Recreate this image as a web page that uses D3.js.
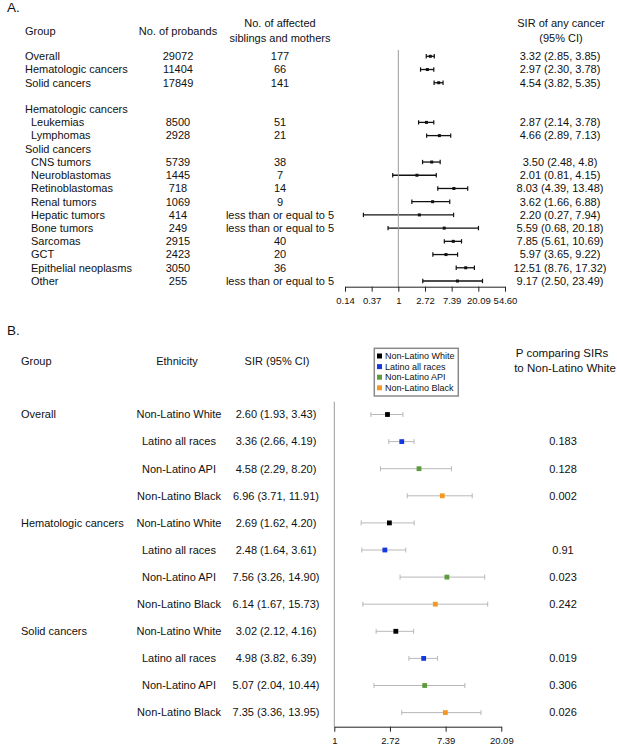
<!DOCTYPE html>
<html>
<head>
<meta charset="utf-8">
<script src="https://cdn.jsdelivr.net/npm/d3@7"></script>
<style>
  body { margin: 0; background: #fff; }
  svg { display: block; }
  text { font-family: 'Liberation Sans', Arial, sans-serif; fill: #111; }
</style>
</head>
<body>
<svg id="chart" width="617" height="753"></svg>
<script>
// ---- Panel A data ----
const labelsA = ['Overall', 'Hematologic cancers', 'Solid cancers', '',
  'Hematologic cancers', 'Leukemias', 'Lymphomas', 'Solid cancers',
  'CNS tumors', 'Neuroblastomas', 'Retinoblastomas', 'Renal tumors', 'Hepatic tumors',
  'Bone tumors', 'Sarcomas', 'GCT', 'Epithelial neoplasms', 'Other'];
const indentA = [0, 0, 0, 0, 0, 1, 1, 0, 1, 1, 1, 1, 1, 1, 1, 1, 1, 1];
const probandsA = ['29072', '11404', '17849', '', '', '8500', '2928', '',
  '5739', '1445', '718', '1069', '414', '249', '2915', '2423', '3050', '255'];
const affectedA = ['177', '66', '141', '', '', '51', '21', '',
  '38', '7', '14', '9', 'less than or equal to 5', 'less than or equal to 5', '40', '20', '36', 'less than or equal to 5'];
const sirA = [3.32, 2.97, 4.54, null, null, 2.87, 4.66, null, 3.50, 2.01, 8.03, 3.62, 2.20, 5.59, 7.85, 5.97, 12.51, 9.17];
const loA = [2.85, 2.30, 3.82, null, null, 2.14, 2.89, null, 2.48, 0.81, 4.39, 1.66, 0.27, 0.68, 5.61, 3.65, 8.76, 2.50];
const hiA = [3.85, 3.78, 5.35, null, null, 3.78, 7.13, null, 4.8, 4.15, 13.48, 6.88, 7.94, 20.18, 10.69, 9.22, 17.32, 23.49];
const sirTextA = ['3.32 (2.85, 3.85)', '2.97 (2.30, 3.78)', '4.54 (3.82, 5.35)', '', '',
  '2.87 (2.14, 3.78)', '4.66 (2.89, 7.13)', '', '3.50 (2.48, 4.8)', '2.01 (0.81, 4.15)',
  '8.03 (4.39, 13.48)', '3.62 (1.66, 6.88)', '2.20 (0.27, 7.94)', '5.59 (0.68, 20.18)',
  '7.85 (5.61, 10.69)', '5.97 (3.65, 9.22)', '12.51 (8.76, 17.32)', '9.17 (2.50, 23.49)'];
const ticksA = [-2, -1, 0, 1, 2, 3, 4];
const tickLabelsA = ['0.14', '0.37', '1', '2.72', '7.39', '20.09', '54.60'];

// ---- Panel B data ----
const groupsB = ['Overall', 'Hematologic cancers', 'Solid cancers'];
const ethnicities = ['Non-Latino White', 'Latino all races', 'Non-Latino API', 'Non-Latino Black'];
const ethColors = ['#000000', '#1438e0', '#5e9b3c', '#f4981f'];
const sirB = [2.60, 3.36, 4.58, 6.96, 2.69, 2.48, 7.56, 6.14, 3.02, 4.98, 5.07, 7.35];
const loB = [1.93, 2.66, 2.29, 3.71, 1.62, 1.64, 3.26, 1.67, 2.12, 3.82, 2.04, 3.36];
const hiB = [3.43, 4.19, 8.20, 11.91, 4.20, 3.61, 14.90, 15.73, 4.16, 6.39, 10.44, 13.95];
const pB = ['', '0.183', '0.128', '0.002', '', '0.91', '0.023', '0.242', '', '0.019', '0.306', '0.026'];
const ticksB = [0, 1, 2, 3];
const tickLabelsB = ['1', '2.72', '7.39', '20.09'];

const svg = d3.select('#chart');
const fs = 11;

// ================= A =================
const gA = svg.append('g');
const xA = d3.scaleLog().domain([Math.exp(-2), Math.exp(4)]).range([345, 505]);
const yA = d3.scaleLinear().domain([0, 17]).range([56.3, 281]);

gA.append('text').attr('x', 7).attr('y', 12).attr('font-size', 13.5).text('A.');

const headA = [
  { t: 'Group', x: 25, y: 31, a: 'start' },
  { t: 'No. of probands', x: 178, y: 31, a: 'middle' },
  { t: 'No. of affected', x: 280, y: 23, a: 'middle' },
  { t: 'siblings and mothers', x: 280, y: 37.7, a: 'middle' },
  { t: 'SIR of any cancer', x: 561, y: 23.3, a: 'middle' },
  { t: '(95% CI)', x: 561, y: 37.7, a: 'middle' }
];
gA.selectAll('.headA').data(headA).enter().append('text')
  .attr('class', 'headA')
  .attr('x', d => d.x).attr('y', d => d.y).attr('dy', '0.35em')
  .attr('text-anchor', d => d.a).attr('font-size', fs)
  .text(d => d.t);

const rowsA = labelsA.map((l, i) => ({ i, l }));
const rowA = gA.selectAll('.rowA').data(rowsA).enter().append('g')
  .attr('class', 'rowA')
  .attr('transform', d => `translate(0,${yA(d.i)})`);

rowA.append('text').attr('x', d => indentA[d.i] ? 31 : 25).attr('dy', '0.35em')
  .attr('font-size', fs).text(d => d.l);
rowA.append('text').attr('x', 178).attr('dy', '0.35em').attr('text-anchor', 'middle')
  .attr('font-size', fs).text(d => probandsA[d.i]);
rowA.append('text').attr('x', 280).attr('dy', '0.35em').attr('text-anchor', 'middle')
  .attr('font-size', fs).text(d => affectedA[d.i]);
rowA.append('text').attr('x', 560).attr('dy', '0.35em').attr('text-anchor', 'middle')
  .attr('font-size', fs).text(d => sirTextA[d.i]);

// reference line at 1
gA.append('line')
  .attr('x1', xA(1)).attr('x2', xA(1)).attr('y1', 50).attr('y2', 286.7)
  .attr('stroke', '#9a9a9a').attr('stroke-width', 1);

const ciA = rowA.filter(d => sirA[d.i] != null);
ciA.append('line')
  .attr('x1', d => xA(loA[d.i])).attr('x2', d => xA(hiA[d.i]))
  .attr('stroke', '#111').attr('stroke-width', 1.3);
ciA.selectAll('.capA').data(d => [loA[d.i], hiA[d.i]]).enter().append('line')
  .attr('class', 'capA')
  .attr('x1', v => xA(v)).attr('x2', v => xA(v)).attr('y1', -2.2).attr('y2', 2.2)
  .attr('stroke', '#111').attr('stroke-width', 1.2);
ciA.append('rect')
  .attr('x', d => xA(sirA[d.i]) - 1.5).attr('y', -1.5)
  .attr('width', 3).attr('height', 3).attr('fill', '#111');

const axisA = gA.append('g')
  .attr('transform', 'translate(0,286.7)')
  .call(d3.axisBottom(xA)
    .tickValues(ticksA.map(k => Math.exp(k)))
    .tickFormat((d, i) => tickLabelsA[i])
    .tickSize(5).tickSizeOuter(0));
axisA.selectAll('text').attr('font-size', 9.5).attr('font-family', "'Liberation Sans', Arial, sans-serif").attr('fill', '#111').attr('dy', '0.95em');
axisA.selectAll('path, line').attr('stroke', '#222');

// ================= B =================
const gB = svg.append('g');
const xB = d3.scaleLog().domain([1, Math.exp(3)]).range([334.3, 501.3]);
const yB = d3.scaleLinear().domain([0, 11]).range([414.5, 712.6]);

gB.append('text').attr('x', 7).attr('y', 335).attr('font-size', 13.5).text('B.');

const headB = [
  { t: 'Group', x: 21, y: 361, a: 'start' },
  { t: 'Ethnicity', x: 177, y: 361, a: 'middle' },
  { t: 'SIR (95% CI)', x: 277, y: 361, a: 'middle' },
  { t: 'P comparing SIRs', x: 562, y: 353, a: 'middle' },
  { t: 'to Non-Latino White', x: 565, y: 368.3, a: 'middle' }
];
gB.selectAll('.headB').data(headB).enter().append('text')
  .attr('class', 'headB')
  .attr('x', d => d.x).attr('y', d => d.y).attr('dy', '0.35em')
  .attr('text-anchor', d => d.a).attr('font-size', d => d.t.length > 15 && d.x > 500 ? 11.5 : fs)
  .text(d => d.t);

// legend
const legend = gB.append('g');
legend.append('rect')
  .attr('x', 374.3).attr('y', 348.3).attr('width', 84).attr('height', 47.7)
  .attr('fill', '#fff').attr('stroke', '#8a8a8a').attr('stroke-width', 1.5);
const legItem = legend.selectAll('.leg').data(ethnicities).enter().append('g')
  .attr('class', 'leg')
  .attr('transform', (d, i) => `translate(377,${356 + i * 10.6})`);
legItem.append('rect').attr('x', 0).attr('y', -2.5).attr('width', 5).attr('height', 5)
  .attr('fill', (d, i) => ethColors[i]);
legItem.append('text').attr('x', 8).attr('dy', '0.35em').attr('font-size', 9).text(d => d);

const rowsB = sirB.map((v, i) => ({ i, g: i % 4 === 0 ? groupsB[i / 4] : '', e: i % 4 }));
const rowB = gB.selectAll('.rowB').data(rowsB).enter().append('g')
  .attr('class', 'rowB')
  .attr('transform', d => `translate(0,${yB(d.i)})`);

rowB.append('text').attr('x', 21).attr('dy', '0.35em').attr('font-size', fs).text(d => d.g);
rowB.append('text').attr('x', 179).attr('dy', '0.35em').attr('text-anchor', 'middle')
  .attr('font-size', fs).text(d => ethnicities[d.e]);
rowB.append('text').attr('x', 276).attr('dy', '0.35em').attr('text-anchor', 'middle')
  .attr('font-size', fs)
  .text(d => `${sirB[d.i].toFixed(2)} (${loB[d.i].toFixed(2)}, ${hiB[d.i].toFixed(2)})`);
rowB.append('text').attr('x', 563).attr('dy', '0.35em').attr('text-anchor', 'middle')
  .attr('font-size', fs).text(d => pB[d.i]);

gB.append('line')
  .attr('x1', xB(1)).attr('x2', xB(1)).attr('y1', 401.7).attr('y2', 726.7)
  .attr('stroke', '#9a9a9a').attr('stroke-width', 1);

rowB.append('line')
  .attr('x1', d => xB(loB[d.i])).attr('x2', d => xB(hiB[d.i]))
  .attr('stroke', '#b8b8b8').attr('stroke-width', 1);
rowB.selectAll('.capB').data(d => [loB[d.i], hiB[d.i]]).enter().append('line')
  .attr('class', 'capB')
  .attr('x1', v => xB(v)).attr('x2', v => xB(v)).attr('y1', -2.5).attr('y2', 2.5)
  .attr('stroke', '#b8b8b8').attr('stroke-width', 1);
rowB.append('rect')
  .attr('x', d => xB(sirB[d.i]) - 2.4).attr('y', -2.4)
  .attr('width', 4.8).attr('height', 4.8).attr('fill', d => ethColors[d.e]);

const axisB = gB.append('g')
  .attr('transform', 'translate(0,726.7)')
  .call(d3.axisBottom(xB)
    .tickValues(ticksB.map(k => Math.exp(k)))
    .tickFormat((d, i) => tickLabelsB[i])
    .tickSize(5).tickSizeOuter(0));
axisB.selectAll('text').attr('font-size', 9.5).attr('font-family', "'Liberation Sans', Arial, sans-serif").attr('fill', '#111').attr('dy', '0.95em');
axisB.selectAll('path, line').attr('stroke', '#222');
</script>
</body>
</html>
